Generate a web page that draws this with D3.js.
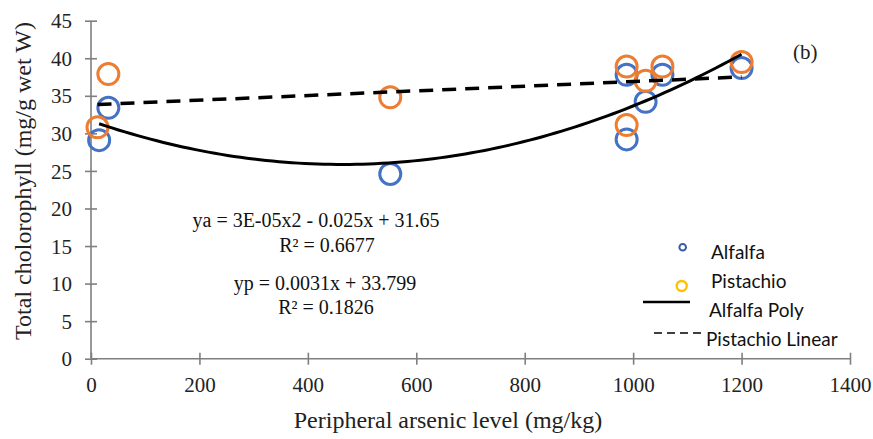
<!DOCTYPE html>
<html>
<head>
<meta charset="utf-8">
<script src="https://cdn.jsdelivr.net/npm/d3@7"></script>
<style>
  html, body { margin: 0; padding: 0; background: #fff; }
  svg { display: block; }
</style>
</head>
<body>
<svg id="chart" width="873" height="439"></svg>
<script>
// Chlorophyll content versus peripheral arsenic level
const alfalfaX = [15, 32, 552, 988, 988, 1023, 1054, 1200];
const alfalfaY = [29.1, 33.4, 24.6, 29.2, 37.8, 34.2, 37.8, 38.7];
const pistachioX = [12, 32, 552, 988, 988, 1023, 1054, 1200];
const pistachioY = [30.8, 37.9, 34.8, 31.1, 38.9, 37.0, 38.9, 39.5];

// Trendline coefficients (quadratic for alfalfa, linear for pistachio)
const alfalfaPoly = [2.7e-5, -0.025, 31.65];
const pistachioLin = [0.0031, 33.799];

const xTicks = [0, 200, 400, 600, 800, 1000, 1200, 1400];
const yTicks = [0, 5, 10, 15, 20, 25, 30, 35, 40, 45];

const equationLabels = [
  "ya = 3E-05x2 - 0.025x + 31.65",
  "R² = 0.6677",
  "yp = 0.0031x + 33.799",
  "R² = 0.1826"
];
const legendLabels = ["Alfalfa", "Pistachio", "Alfalfa Poly", "Pistachio Linear"];

const svg = d3.select("#chart");
const serif = "'Liberation Serif', 'Times New Roman', serif";
const sans = "Lato, 'Open Sans', sans-serif";

const x = d3.scaleLinear().domain([0, 1400]).range([91, 850]);
const y = d3.scaleLinear().domain([0, 45]).range([358.7, 20.7]);

const axisColor = "#7f7f7f";

// Y axis
const yAxis = svg.append("g").attr("transform", `translate(${x(0)},0)`)
  .call(d3.axisLeft(y).tickValues(yTicks).tickSize(6).tickFormat(d3.format("d")));
yAxis.select(".domain").attr("stroke", axisColor).attr("stroke-width", 1.6)
  .attr("d", `M0,${y(0)}V${y(45)}`);
yAxis.selectAll(".tick line").attr("x1", -6).attr("x2", 6)
  .attr("stroke", axisColor).attr("stroke-width", 1.6);
yAxis.selectAll(".tick text").attr("x", -19).attr("dy", "0.34em")
  .attr("font-family", serif).attr("font-size", 21).attr("fill", "#222");

// X axis
const xAxis = svg.append("g").attr("transform", `translate(0,${y(0)})`)
  .call(d3.axisBottom(x).tickValues(xTicks).tickSize(6).tickFormat(d3.format("d")));
xAxis.select(".domain").attr("stroke", axisColor).attr("stroke-width", 1.6)
  .attr("d", `M${x(0)},0H${x(1400)}`);
xAxis.selectAll(".tick line").attr("y1", -6).attr("y2", 6)
  .attr("stroke", axisColor).attr("stroke-width", 1.6);
xAxis.selectAll(".tick text").attr("y", 33).attr("dy", 0)
  .attr("font-family", serif).attr("font-size", 21).attr("fill", "#222");

// Axis titles
svg.append("text")
  .attr("x", 448).attr("y", 428)
  .attr("text-anchor", "middle")
  .attr("font-family", serif).attr("font-size", 24).attr("fill", "#222")
  .text("Peripheral arsenic level (mg/kg)");

svg.append("text")
  .attr("transform", `translate(31,181) rotate(-90)`)
  .attr("text-anchor", "middle")
  .attr("font-family", serif).attr("font-size", 24).attr("fill", "#222")
  .text("Total cholorophyll (mg/g wet W)");

// Panel tag
svg.append("text")
  .attr("x", 793).attr("y", 59)
  .attr("font-family", serif).attr("font-size", 21).attr("fill", "#222")
  .text("(b)");

// Markers
const alfalfa = alfalfaX.map((v, i) => ({ x: v, y: alfalfaY[i] }));
const pistachio = pistachioX.map((v, i) => ({ x: v, y: pistachioY[i] }));

svg.append("g").selectAll("circle").data(alfalfa).join("circle")
  .attr("cx", d => x(d.x)).attr("cy", d => y(d.y)).attr("r", 10.5)
  .attr("fill", "none").attr("stroke", "#4472C4").attr("stroke-width", 3);

svg.append("g").selectAll("circle").data(pistachio).join("circle")
  .attr("cx", d => x(d.x)).attr("cy", d => y(d.y)).attr("r", 10.5)
  .attr("fill", "none").attr("stroke", "#ED7D31").attr("stroke-width", 3);

// Trendlines
const polyFn = v => alfalfaPoly[0] * v * v + alfalfaPoly[1] * v + alfalfaPoly[2];
const linFn = v => pistachioLin[0] * v + pistachioLin[1];

const ax0 = d3.min(alfalfaX), ax1 = d3.max(alfalfaX);
const polyPts = d3.range(0, 101).map(i => ax0 + (ax1 - ax0) * i / 100);
const line = d3.line().x(d => x(d[0])).y(d => y(d[1]));

svg.append("path")
  .attr("d", line(polyPts.map(v => [v, polyFn(v)])))
  .attr("fill", "none").attr("stroke", "#000").attr("stroke-width", 3);

const px0 = d3.min(pistachioX), px1 = d3.max(pistachioX);
svg.append("path")
  .attr("d", line([[px0, linFn(px0)], [px1, linFn(px1)]]))
  .attr("fill", "none").attr("stroke", "#000").attr("stroke-width", 3.5)
  .attr("stroke-dasharray", "14,9");

// Trendline equations
const eqPos = [[316, 227], [327, 252], [325, 290], [326, 314]];
svg.append("g").selectAll("text").data(equationLabels).join("text")
  .attr("x", (d, i) => eqPos[i][0]).attr("y", (d, i) => eqPos[i][1])
  .attr("text-anchor", "middle")
  .attr("font-family", serif).attr("font-size", 20).attr("fill", "#111")
  .text(d => d);

// Legend
const lg = svg.append("g");
lg.append("circle").attr("cx", 682.7).attr("cy", 247.3).attr("r", 3.3)
  .attr("fill", "none").attr("stroke", "#3B5BA5").attr("stroke-width", 2);
lg.append("circle").attr("cx", 681.7).attr("cy", 286).attr("r", 5)
  .attr("fill", "none").attr("stroke", "#FFC000").attr("stroke-width", 2.4);
lg.append("line").attr("x1", 643).attr("x2", 690).attr("y1", 302).attr("y2", 302)
  .attr("stroke", "#000").attr("stroke-width", 2.5);
lg.append("line").attr("x1", 654).attr("x2", 702).attr("y1", 333).attr("y2", 333)
  .attr("stroke", "#000").attr("stroke-width", 1.6).attr("stroke-dasharray", "8,5");
const legPos = [[711, 259], [711, 288], [709, 316.5], [706, 346]];
lg.selectAll("text").data(legendLabels).join("text")
  .attr("x", (d, i) => legPos[i][0]).attr("y", (d, i) => legPos[i][1])
  .attr("font-family", sans).attr("font-size", 19).attr("fill", "#111")
  .text(d => d);
</script>
</body>
</html>
